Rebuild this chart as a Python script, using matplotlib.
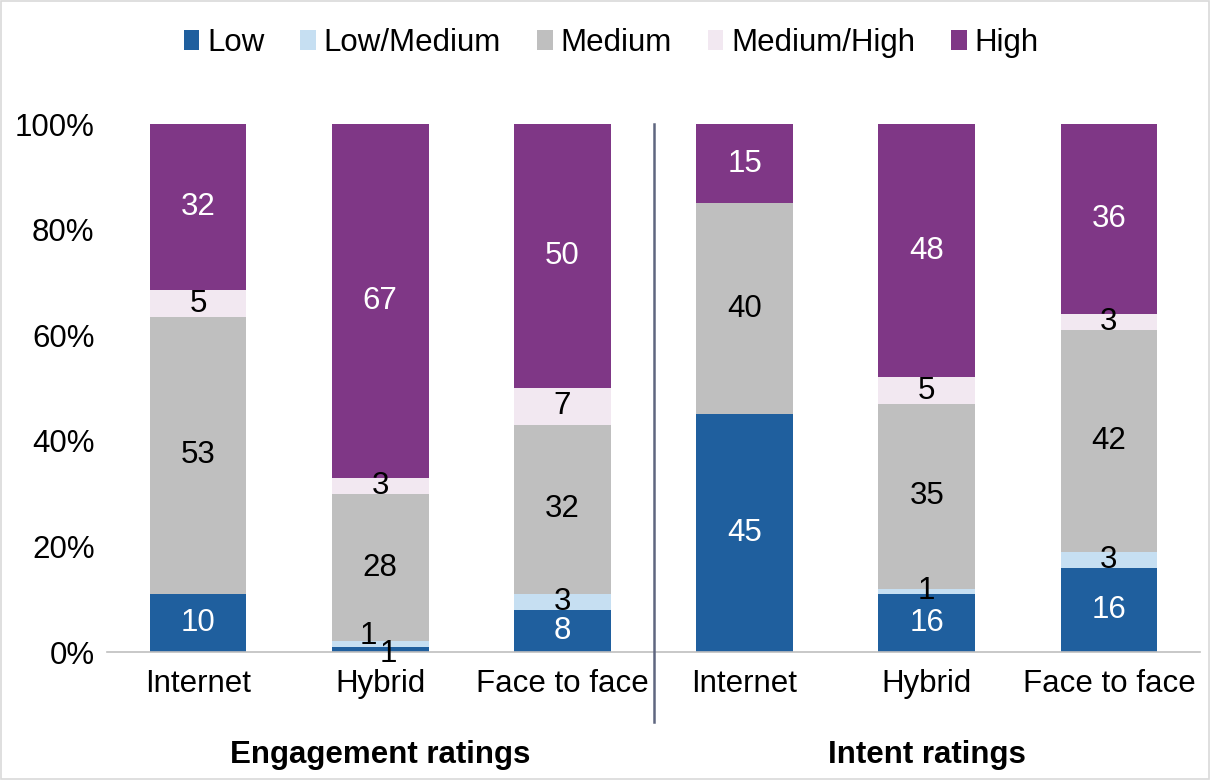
import numpy as np
import matplotlib.pyplot as plt
from matplotlib.patches import Rectangle

plt.rcParams['font.family'] = ['Liberation Sans', 'DejaVu Sans']

categories = ['Internet', 'Hybrid', 'Face to face', 'Internet', 'Hybrid', 'Face to face']
groups = ['Engagement ratings', 'Intent ratings']
series = ['Low', 'Low/Medium', 'Medium', 'Medium/High', 'High']
colors = ['#1F5F9E', '#C6DFF2', '#BFBFBF', '#F2E8F1', '#7F3786']
text_colors = ['white', 'black', 'black', 'black', 'white']

# segment heights (%)
low = [11, 1, 8, 45, 11, 16]
low_medium = [0, 1, 3, 0, 1, 3]
medium = [52.5, 28, 32, 40, 35, 42]
medium_high = [5, 3, 7, 0, 5, 3]
high = [31.5, 67, 50, 15, 48, 36]

# data labels as printed on the chart
low_lbl = ['10', '1', '8', '45', '16', '16']
low_medium_lbl = ['', '1', '3', '', '1', '3']
medium_lbl = ['53', '28', '32', '40', '35', '42']
medium_high_lbl = ['5', '3', '7', '', '5', '3']
high_lbl = ['32', '67', '50', '15', '48', '36']

values = [low, low_medium, medium, medium_high, high]
labels = [low_lbl, low_medium_lbl, medium_lbl, medium_high_lbl, high_lbl]

# the two tiny Hybrid labels sit off-centre in the original (dx, dy)
nudge = {(0, 1): (0.045, -0.8), (1, 1): (-0.065, 1.5)}

FS = 22.5

fig = plt.figure(figsize=(12.1, 7.8), dpi=100)
ax = fig.add_axes([107 / 1210, 1 - 652 / 780, 1093 / 1210, 528 / 780])

x = np.arange(len(categories))
bottom = np.zeros(len(categories))
for si, (vals, lbls, col, tcol, name) in enumerate(zip(values, labels, colors, text_colors, series)):
    vals = np.array(vals, dtype=float)
    ax.bar(x, vals, bottom=bottom, width=0.53, color=col, label=name, zorder=2)
    for xi, b, v, t in zip(x, bottom, vals, lbls):
        if not t:
            continue
        dx, dy = nudge.get((si, int(xi)), (0, 0))
        c = 'black' if (si, int(xi)) in nudge else tcol
        ax.text(xi + dx, b + v / 2 + dy, t, ha='center', va='center',
                fontsize=FS, color=c, zorder=3)
    bottom += vals

ax.set_xlim(-0.5, 5.5)
ax.set_ylim(0, 100)
ax.set_yticks(range(0, 101, 20))
ax.set_yticklabels([f'{v}%' for v in range(0, 101, 20)], fontsize=FS)
ax.set_xticks(x)
ax.set_xticklabels(categories, fontsize=FS)
ax.tick_params(length=0)
ax.tick_params(axis='x', pad=12)
ax.tick_params(axis='y', pad=9)
for s in ['top', 'right', 'left']:
    ax.spines[s].set_visible(False)
ax.spines['bottom'].set_color('#BFBFBF')
ax.spines['bottom'].set_linewidth(1.2)

# group separator
ax.plot([2.5, 2.5], [100, -13.3], color='#5F6680', lw=1.8, clip_on=False, zorder=4)

for gx, g in zip([1, 4], groups):
    ax.text(gx, -19.5, g, ha='center', va='center', fontsize=FS,
            fontweight='bold')

ax.legend(loc='center', bbox_to_anchor=(0.505, (780 - 43) / 780), bbox_transform=fig.transFigure,
          ncol=5, frameon=False, fontsize=FS, handlelength=0.5, handleheight=0.6,
          handletextpad=0.25, columnspacing=1.15)

fig.add_artist(Rectangle((0.001, 0.001), 0.998, 0.998, transform=fig.transFigure,
                         fill=False, edgecolor='#D9D9D9', lw=1.2))

fig.savefig('out.png', dpi=100)
